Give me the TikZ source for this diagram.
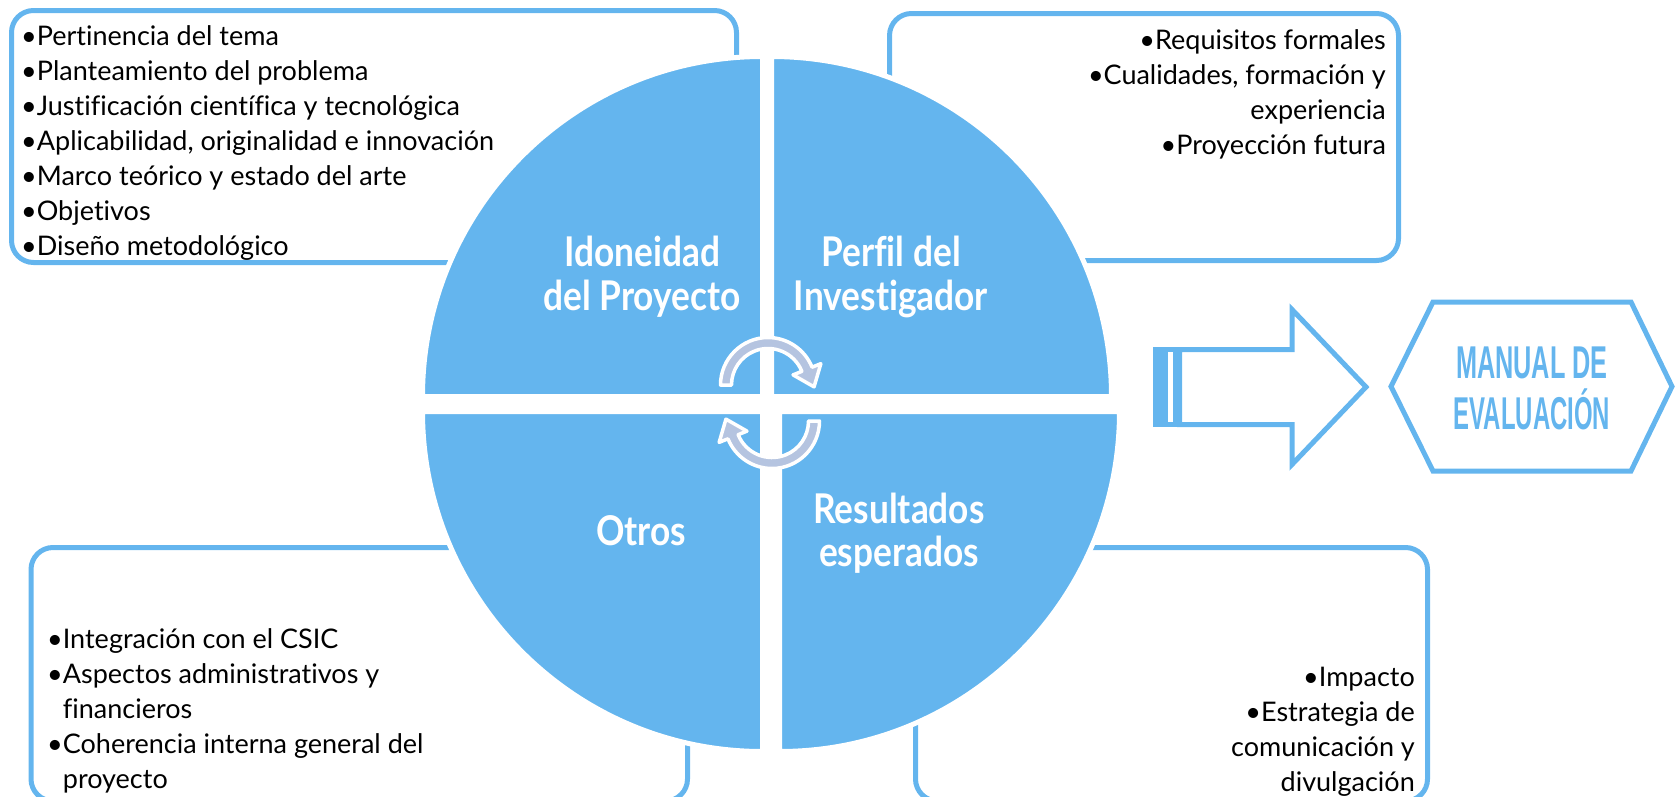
\documentclass[tikz,border=0pt]{standalone}
\usepackage{fontspec}
\setmainfont{Lato}[Ligatures=NoCommon]
\newfontfamily\manfont{Liberation Sans}
\usetikzlibrary{calc}
\definecolor{qblue}{RGB}{100,181,238}
\definecolor{cycfill}{RGB}{181,196,224}
\begin{document}
\begin{tikzpicture}[x=1pt,y=1pt,
  box/.style={draw=qblue, line width=5pt, rounded corners=22pt},
  quad/.style={fill=qblue, draw=white, line width=5pt},
  cyc/.style={fill=cycfill, draw=white, line width=3.5pt, line join=round},
  shapeline/.style={draw=qblue, line width=5pt, line join=miter},
  title/.style={text=white, font=\fontsize{41}{45}\selectfont\bfseries, anchor=base, inner sep=0pt},
  body/.style={font=\fontsize{27}{35}\selectfont, inner sep=0pt, text=black},
  mantext/.style={text=qblue, font=\manfont\bfseries\fontsize{46}{52}\selectfont, anchor=base, inner sep=0pt}
]
\path[use as bounding box] (0,0) rectangle (1676,-796);
\clip (0,0) rectangle (1676,-796);

% boxes
\draw[box] (11.5,-10.5) rectangle (736.5,-262.5);
\draw[box] (889.5,-13.5) rectangle (1398.5,-260.5);
\draw[box] (31,-547.5) rectangle (687.5,-801);
\draw[box] (915.5,-547.5) rectangle (1427.5,-801);

% box texts
\node[body, anchor=north west, align=left] (tltext) at (21,-20.7)
  {\rule{0pt}{24.3pt}•Pertinencia del tema\\
   •Planteamiento del problema\\
   •Justificación científica y tecnológica\\
   •Aplicabilidad, originalidad e innovación\\
   •Marco teórico y estado del arte\\
   •Objetivos\\
   •Diseño metodológico};
\node[body, anchor=north east, align=right] (trtext) at (1386,-24.7)
  {\rule{0pt}{24.3pt}•Requisitos formales\\
   •Cualidades, formación y\\
   experiencia\\
   •Proyección futura};
\node[body, anchor=north west, align=left] (bltext) at (47,-623.7)
  {\rule{0pt}{24.3pt}•Integración con el CSIC\\
   •Aspectos administrativos y\\
   \hphantom{•}financieros\\
   •Coherencia interna general del\\
   \hphantom{•}proyecto};
\node[body, anchor=north east, align=right] (brtext) at (1415,-661.7)
  {\rule{0pt}{24.3pt}•Impacto\\
   •Estrategia de\\
   comunicación y\\
   divulgación};

% quadrants
\path[quad] (762.5,-396.5) -- (422.5,-396.5) arc[start angle=180,end angle=90,radius=340] -- cycle;
\path[quad] (771.5,-396.5) -- (771.5,-56.5) arc[start angle=90,end angle=0,radius=340] -- cycle;
\path[quad] (762.5,-411.5) -- (422.5,-411.5) arc[start angle=180,end angle=270,radius=340] -- cycle;
\path[quad] (779.5,-411.5) -- (1119.5,-411.5) arc[start angle=0,end angle=-90,radius=340] -- cycle;

% titles
\node[title] (t1a) at (642,-266) {\scalebox{0.86}[1]{Idoneidad}};
\node[title] (t1b) at (642,-310) {\scalebox{0.86}[1]{del Proyecto}};
\node[title] (t2a) at (891,-266) {\scalebox{0.86}[1]{Perfil del}};
\node[title] (t2b) at (891,-310) {\scalebox{0.86}[1]{Investigador}};
\node[title] (t3) at (641,-545) {\scalebox{0.86}[1]{Otros}};
\node[title] (t4a) at (899,-523) {\scalebox{0.86}[1]{Resultados}};
\node[title] (t4b) at (899,-566) {\scalebox{0.86}[1]{esperados}};

% cycle arrows
\coordinate (c1) at (768,-385);
\coordinate (c2) at (772,-421);
\path[cyc] ($(c1)+(180:47.5)$) arc[start angle=180,end angle=22,radius=47.5]
  -- ($(c1)+(22:57)$) -- ($(c1)+(22:42)+(-68:19)$) -- ($(c1)+(22:27)$)
  -- ($(c1)+(22:36.5)$) arc[start angle=22,end angle=180,radius=36.5] -- cycle;
\path[cyc] ($(c2)+(0:47.5)$) arc[start angle=0,end angle=-158,radius=47.5]
  -- ($(c2)+(-158:57)$) -- ($(c2)+(-158:42)+(112:19)$) -- ($(c2)+(-158:27)$)
  -- ($(c2)+(-158:36.5)$) arc[start angle=-158,end angle=0,radius=36.5] -- cycle;

% striped arrow
\fill[qblue] (1153,-347) rectangle (1182,-427);
\fill[white] (1168,-352) rectangle (1172.5,-422);
\draw[shapeline] (1179.5,-349.5) -- (1292,-349.5) -- (1292,-309.5) -- (1366,-387)
  -- (1292,-464.5) -- (1292,-424.5) -- (1179.5,-424.5) -- cycle;

% hexagon
\draw[shapeline] (1391,-386.5) -- (1433,-302) -- (1631,-302) -- (1672,-386.5)
  -- (1631,-471) -- (1433,-471) -- cycle;
\node[mantext] (m1) at (1532,-378) {\scalebox{0.55}[1]{MANUAL DE}};
\node[mantext] (m2) at (1532,-429) {\scalebox{0.52}[1]{EVALUACIÓN}};
\end{tikzpicture}
\end{document}
